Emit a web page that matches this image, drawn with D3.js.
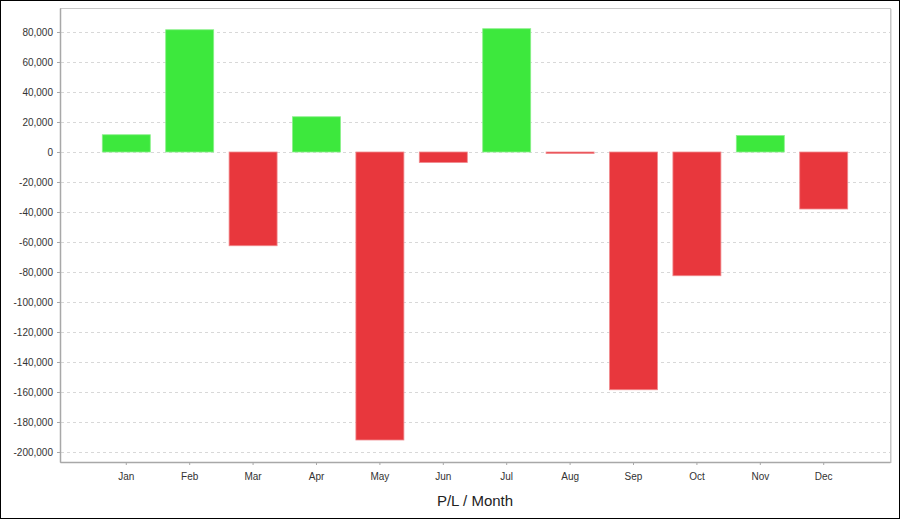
<!DOCTYPE html>
<html><head><meta charset="utf-8">
<script src="https://cdn.jsdelivr.net/npm/d3@7/dist/d3.min.js"></script>
<style>
html,body{margin:0;padding:0;background:#fff;}
svg{display:block;font-family:"Liberation Sans",Arial,sans-serif;}
</style></head>
<body><svg id="c" width="900" height="519"></svg>
<script>
const months = ["Jan","Feb","Mar","Apr","May","Jun","Jul","Aug","Sep","Oct","Nov","Dec"];
const profitLoss = [11500, 81500, -62500, 23500, -192000, -7000, 82200, -1000, -158500, -82500, 11000, -38000];
const yTicks = [80000,60000,40000,20000,0,-20000,-40000,-60000,-80000,-100000,-120000,-140000,-160000,-180000,-200000];
const axisTitle = "P/L / Month";

const svg = d3.select("#c");
const W = 900, H = 519;
const L = 60, T = 8, R = 890, B = 462;

svg.append("rect").attr("x",0.5).attr("y",0.5).attr("width",W-1).attr("height",H-1)
  .attr("fill","#fff").attr("stroke","#000").attr("stroke-width",1);

const y = d3.scaleLinear().domain([-206667, 96000]).range([B, T]);
const x = d3.scaleBand().domain(months).range([L, R]).paddingInner(0.243).paddingOuter(0.667);

// plot frame
svg.append("rect").attr("x",L+0.5).attr("y",T+0.5).attr("width",R-L).attr("height",B-T)
  .attr("fill","#fff").attr("stroke","#c8c8c8").attr("stroke-width",1);
svg.append("line").attr("x1",R+1.5).attr("x2",R+1.5).attr("y1",T+1).attr("y2",B+1).attr("stroke","#e2e2e2");

// grid
svg.append("g").selectAll("line").data(yTicks).join("line")
  .attr("x1",L+1).attr("x2",R).attr("y1",d=>Math.round(y(d))+0.5).attr("y2",d=>Math.round(y(d))+0.5)
  .attr("stroke","#d8d8d8").attr("stroke-dasharray","3,3").attr("stroke-width",1);

// bars
svg.append("g").selectAll("rect").data(months).join("rect")
  .attr("x",(d)=>x(d))
  .attr("width",x.bandwidth())
  .attr("y",(d,i)=>y(Math.max(0,profitLoss[i])))
  .attr("height",(d,i)=>Math.abs(y(profitLoss[i])-y(0)))
  .attr("fill",(d,i)=>profitLoss[i]>=0?"#3de83d":"#e8373d")
  .attr("stroke",(d,i)=>profitLoss[i]>=0?"#8af08a":"#f08a8e")
  .attr("stroke-width",0.8);

const fmt = d => d3.format(",")(d).replace("\u2212","-");

// y axis
const ya = d3.axisLeft(y).tickValues(yTicks).tickSize(3).tickSizeOuter(0).tickPadding(4).tickFormat(fmt);
const gy = svg.append("g").attr("transform",`translate(${L},0)`).call(ya);
gy.select(".domain").attr("stroke","#a8a8a8").attr("stroke-width",1.5);
gy.selectAll(".tick line").attr("stroke","#a8a8a8");
gy.selectAll("text").attr("font-size","10px").attr("fill","#333");

// x axis
const xa = d3.axisBottom(x).tickSize(3).tickSizeOuter(0).tickPadding(8);
const gx = svg.append("g").attr("transform",`translate(0,${B})`).call(xa);
gx.select(".domain").attr("stroke","#a8a8a8").attr("stroke-width",1.5);
gx.selectAll(".tick line").attr("stroke","#a8a8a8");
gx.selectAll("text").attr("font-size","10px").attr("fill","#333");

svg.append("text").attr("x",(L+R)/2).attr("y",506).attr("text-anchor","middle")
  .attr("font-size","15px").attr("fill","#222").text(axisTitle);
</script></body></html>
